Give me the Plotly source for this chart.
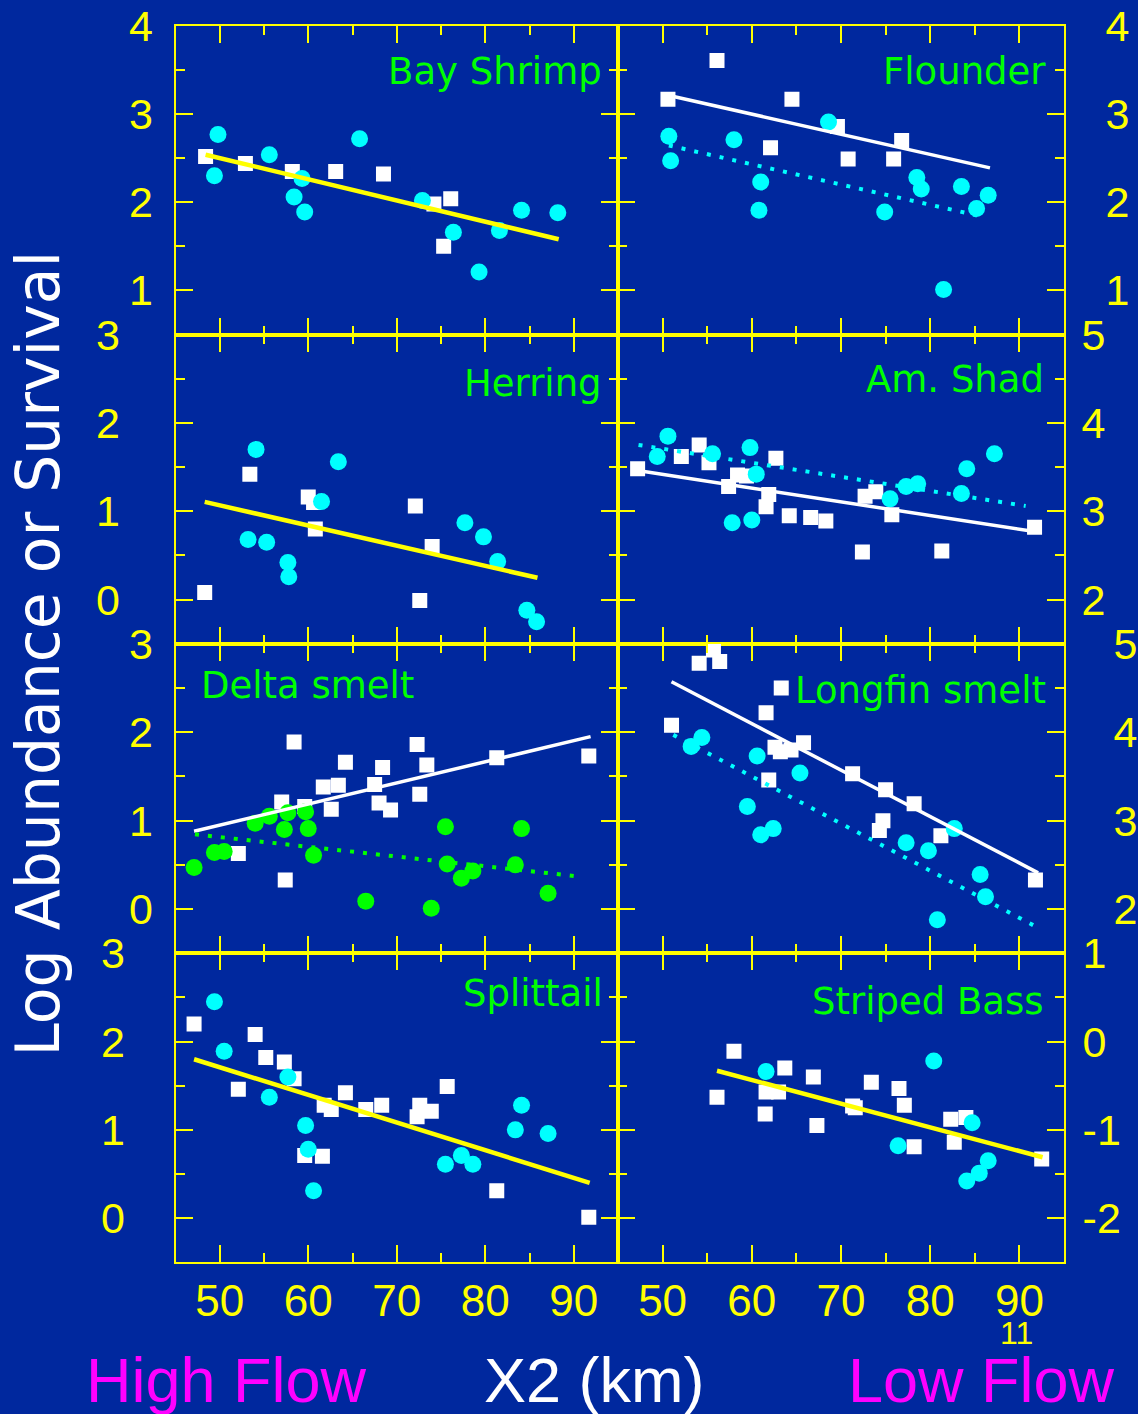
import plotly.graph_objects as go

# ---------------- data ----------------
# Bay Shrimp
bay_sq_x = [48.4, 52.9, 58.2, 63.1, 68.5, 74.2, 76.1, 75.3]
bay_sq_y = [2.52, 2.44, 2.35, 2.35, 2.32, 1.98, 2.04, 1.50]
bay_ci_x = [49.8, 49.4, 55.6, 59.3, 58.4, 59.6, 65.8, 72.9, 76.4, 81.6, 84.1, 79.3, 88.2]
bay_ci_y = [2.77, 2.30, 2.54, 2.27, 2.06, 1.89, 2.72, 2.02, 1.66, 1.68, 1.91, 1.21, 1.88]
bay_fit_x = [48.4, 88.3]
bay_fit_y = [2.54, 1.58]

# Flounder
flo_sq_x = [50.6, 56.1, 64.5, 69.6, 62.1, 70.8, 75.9, 76.8]
flo_sq_y = [3.17, 3.61, 3.17, 2.86, 2.62, 2.49, 2.49, 2.70]
flo_ci_x = [50.7, 50.9, 58.0, 61.0, 60.8, 68.6, 74.9, 78.5, 79.0, 83.5, 85.2, 86.5, 81.5]
flo_ci_y = [2.75, 2.47, 2.71, 2.23, 1.91, 2.91, 1.89, 2.28, 2.15, 2.18, 1.93, 2.08, 1.01]
flo_fit_x = [50.6, 86.7]
flo_fit_y = [3.215, 2.39]
flo_fit2_x = [50.7, 85.5]
flo_fit2_y = [2.645, 1.845]

# Herring
her_sq_x = [53.4, 48.3, 60.0, 60.6, 60.8, 72.1, 74.0, 72.6]
her_sq_y = [1.42, 0.08, 1.16, 1.10, 0.80, 1.06, 0.60, -0.01]
her_ci_x = [54.1, 63.4, 61.5, 53.2, 55.3, 57.7, 57.8, 77.7, 79.8, 81.4, 84.7, 85.8]
her_ci_y = [1.70, 1.56, 1.11, 0.68, 0.65, 0.42, 0.26, 0.87, 0.71, 0.43, -0.12, -0.25]
her_fit_x = [48.3, 85.9]
her_fit_y = [1.106, 0.247]

# Am. Shad
shad_sq_x = [47.2, 52.1, 54.1, 55.2, 57.4, 58.4, 59.4, 61.9, 61.6, 62.7, 64.2, 66.6, 68.3,
             72.7, 73.9, 75.7, 72.4, 81.3, 91.7]
shad_sq_y = [3.48, 3.62, 3.75, 3.55, 3.28, 3.41, 3.40, 3.19, 3.05, 3.60, 2.95, 2.93, 2.89,
             3.17, 3.22, 2.96, 2.54, 2.55, 2.82]
shad_ci_x = [50.6, 49.4, 55.6, 59.8, 60.5, 57.8, 60.0, 75.5, 77.3, 78.6, 83.5, 84.1, 87.2]
shad_ci_y = [3.85, 3.62, 3.65, 3.72, 3.42, 2.87, 2.90, 3.14, 3.28, 3.31, 3.20, 3.48, 3.65]
shad_fit_x = [47.2, 91.7]
shad_fit_y = [3.46, 2.77]
shad_fit2_x = [47.3, 90.7]
shad_fit2_y = [3.75, 3.06]

# Delta smelt
smelt_sq_x = [58.4, 64.2, 68.4, 72.3, 73.4, 61.7, 63.4, 67.5, 57.0, 59.6, 62.6, 68.0, 69.3,
              72.6, 81.3, 91.7, 52.1, 57.4]
smelt_sq_y = [1.89, 1.66, 1.60, 1.86, 1.63, 1.38, 1.40, 1.41, 1.21, 1.16, 1.13, 1.20, 1.12,
              1.30, 1.71, 1.73, 0.63, 0.33]
smelt_ci_x = [47.1, 49.4, 50.5, 54.0, 55.6, 57.7, 59.7, 57.3, 60.0, 60.6, 66.5, 73.9, 75.5,
              75.7, 77.3, 78.6, 83.4, 84.1, 87.1]
smelt_ci_y = [0.47, 0.64, 0.65, 0.97, 1.05, 1.09, 1.10, 0.90, 0.91, 0.61, 0.09, 0.01, 0.93,
              0.51, 0.35, 0.43, 0.50, 0.91, 0.18]
smelt_fit_x = [47.1, 91.9]
smelt_fit_y = [0.88, 1.95]
smelt_fit2_x = [47.2, 90.7]
smelt_fit2_y = [0.845, 0.367]

# Longfin smelt
lf_sq_x = [54.1, 55.7, 56.4, 63.3, 61.6, 51.0, 62.6, 63.2, 64.4, 65.8, 61.9, 71.3, 75.0,
           78.2, 74.7, 74.3, 81.2, 91.8]
lf_sq_y = [4.78, 4.93, 4.80, 4.50, 4.22, 4.08, 3.83, 3.78, 3.80, 3.88, 3.46, 3.53, 3.35,
           3.19, 3.00, 2.89, 2.83, 2.33]
lf_ci_x = [54.4, 53.2, 60.6, 65.4, 59.5, 62.4, 61.0, 77.3, 79.8, 82.7, 85.6, 86.2, 80.8]
lf_ci_y = [3.94, 3.84, 3.73, 3.54, 3.16, 2.91, 2.84, 2.75, 2.66, 2.91, 2.39, 2.14, 1.88]
lf_fit_x = [51.0, 92.1]
lf_fit_y = [4.57, 2.41]
lf_fit2_x = [51.2, 91.7]
lf_fit2_y = [3.97, 1.81]

# Splittail
spl_sq_x = [47.1, 54.0, 55.2, 57.3, 58.4, 52.1, 61.8, 62.6, 64.2, 66.5, 68.3, 72.6, 72.3,
            73.9, 75.7, 59.6, 61.6, 81.3, 91.7]
spl_sq_y = [2.20, 2.08, 1.82, 1.77, 1.58, 1.46, 1.28, 1.23, 1.42, 1.23, 1.28, 1.28, 1.15,
            1.21, 1.49, 0.71, 0.70, 0.31, 0.01]
spl_ci_x = [49.4, 50.5, 57.7, 55.6, 59.7, 60.0, 60.6, 75.5, 77.3, 78.6, 83.4, 84.1, 87.1]
spl_ci_y = [2.45, 1.89, 1.60, 1.37, 1.05, 0.78, 0.31, 0.61, 0.71, 0.61, 1.00, 1.28, 0.96]
spl_fit_x = [47.1, 91.8]
spl_fit_y = [1.80, 0.40]

# Striped Bass
sb_sq_x = [58.0, 56.1, 63.7, 66.9, 61.6, 63.0, 61.5, 67.3, 71.3, 71.6, 73.4, 76.5, 77.1,
           78.2, 82.3, 84.0, 82.7, 92.5]
sb_sq_y = [-0.11, -0.63, -0.30, -0.40, -0.57, -0.57, -0.82, -0.95, -0.73, -0.75, -0.46,
           -0.53, -0.72, -1.19, -0.88, -0.86, -1.14, -1.33]
sb_ci_x = [61.6, 80.4, 84.7, 76.4, 86.5, 85.5, 84.1]
sb_ci_y = [-0.34, -0.22, -0.92, -1.18, -1.35, -1.49, -1.58]
sb_fit_x = [56.1, 92.6]
sb_fit_y = [-0.33, -1.31]

panel_titles = ["Bay Shrimp", "Flounder", "Herring", "Am. Shad",
                "Delta smelt", "Longfin smelt", "Splittail", "Striped Bass"]
x_range = [45, 95]
x_tickvals = [50, 60, 70, 80, 90]
x_ticktext = ["50", "60", "70", "80", "90"]
x_minorvals = [45, 55, 65, 75, 85, 95]
y_ranges = [[0.5, 4], [0.5, 4], [-0.5, 3], [1.5, 5],
            [-0.5, 3], [1.5, 5], [-0.5, 3], [-2.5, 1]]
y_tickvals = [[1, 2, 3, 4], [1, 2, 3, 4], [0, 1, 2, 3], [2, 3, 4, 5],
              [0, 1, 2, 3], [2, 3, 4, 5], [0, 1, 2, 3], [-2, -1, 0, 1]]
y_ticktext = [["1", "2", "3", "4"], ["1", "2", "3", "4"], ["0", "1", "2", "3"], ["2", "3", "4", "5"],
              ["0", "1", "2", "3"], ["2", "3", "4", "5"], ["0", "1", "2", "3"], ["-2", "-1", "0", "1"]]

# ---------------- style ----------------
W, H = 1138, 1414
BG = '#00289E'
YEL = '#FFFF00'
CYAN = '#00FFFF'
GRN = '#00FF00'
WHITE = '#FFFFFF'
MAG = '#FF00FF'
TICKFONT = "Liberation Sans, Arial, sans-serif"
WIDEFONT = "DejaVu Sans, Verdana, sans-serif"

col_px = [(175.5, 618.0), (618.0, 1064.0)]
row_px = [26.0, 334.5, 643.8, 953.3, 1262.3]
left_standoff = [12, 45, 12, 40]
right_standoff = [31, 7, 39, 8]

panels = [
    dict(sq=(bay_sq_x, bay_sq_y), ci=(bay_ci_x, bay_ci_y), ccol=CYAN,
         fits=[(bay_fit_x, bay_fit_y, YEL, 4.5, 'solid')]),
    dict(sq=(flo_sq_x, flo_sq_y), ci=(flo_ci_x, flo_ci_y), ccol=CYAN,
         fits=[(flo_fit_x, flo_fit_y, WHITE, 3.5, 'solid'),
               (flo_fit2_x, flo_fit2_y, CYAN, 4, '4px,9px')]),
    dict(sq=(her_sq_x, her_sq_y), ci=(her_ci_x, her_ci_y), ccol=CYAN,
         fits=[(her_fit_x, her_fit_y, YEL, 4.5, 'solid')]),
    dict(sq=(shad_sq_x, shad_sq_y), ci=(shad_ci_x, shad_ci_y), ccol=CYAN,
         fits=[(shad_fit_x, shad_fit_y, WHITE, 3.5, 'solid'),
               (shad_fit2_x, shad_fit2_y, CYAN, 4, '4px,9px')]),
    dict(sq=(smelt_sq_x, smelt_sq_y), ci=(smelt_ci_x, smelt_ci_y), ccol=GRN,
         fits=[(smelt_fit_x, smelt_fit_y, WHITE, 3.5, 'solid'),
               (smelt_fit2_x, smelt_fit2_y, GRN, 4, '4px,9px')]),
    dict(sq=(lf_sq_x, lf_sq_y), ci=(lf_ci_x, lf_ci_y), ccol=CYAN,
         fits=[(lf_fit_x, lf_fit_y, WHITE, 3.5, 'solid'),
               (lf_fit2_x, lf_fit2_y, CYAN, 4, '4px,9px')]),
    dict(sq=(spl_sq_x, spl_sq_y), ci=(spl_ci_x, spl_ci_y), ccol=CYAN,
         fits=[(spl_fit_x, spl_fit_y, YEL, 4.5, 'solid')]),
    dict(sq=(sb_sq_x, sb_sq_y), ci=(sb_ci_x, sb_ci_y), ccol=CYAN,
         fits=[(sb_fit_x, sb_fit_y, YEL, 4.5, 'solid')]),
]

fig = go.Figure()
layout_axes = {}
for i, p in enumerate(panels):
    r, c = divmod(i, 2)
    n = i + 1
    xs = 'x' if n == 1 else f'x{n}'
    ys = 'y' if n == 1 else f'y{n}'
    fig.add_trace(go.Scatter(x=p['sq'][0], y=p['sq'][1], mode='markers', xaxis=xs, yaxis=ys,
                             marker=dict(symbol='square', size=15, color=WHITE, line=dict(width=0)),
                             showlegend=False, hoverinfo='skip'))
    fig.add_trace(go.Scatter(x=p['ci'][0], y=p['ci'][1], mode='markers', xaxis=xs, yaxis=ys,
                             marker=dict(symbol='circle', size=17, color=p['ccol'], line=dict(width=0)),
                             showlegend=False, hoverinfo='skip'))
    for fx, fy, col, lw, dash in p['fits']:
        fig.add_trace(go.Scatter(x=fx, y=fy, mode='lines', xaxis=xs, yaxis=ys,
                                 line=dict(color=col, width=lw, dash=dash),
                                 showlegend=False, hoverinfo='skip'))

    x0, x1 = col_px[c]
    ytop, ybot = row_px[r], row_px[r + 1]
    xname = 'xaxis' if n == 1 else f'xaxis{n}'
    yname = 'yaxis' if n == 1 else f'yaxis{n}'
    ymin = y_ranges[i][0]
    ymax = y_ranges[i][1]
    yminor = [v + 0.5 for v in range(int(ymin - 1), int(ymax) + 1)]
    layout_axes[xname] = dict(
        domain=[x0 / W, x1 / W], anchor=ys, range=x_range, automargin=False,
        tickmode='array', tickvals=x_tickvals, ticktext=x_ticktext,
        ticks='inside', ticklen=17, tickwidth=2, tickcolor=YEL,
        minor=dict(ticks='inside', ticklen=9, tickwidth=2, tickcolor=YEL, tickvals=x_minorvals),
        showline=True, linecolor=YEL, linewidth=2, mirror='ticks',
        showgrid=False, zeroline=False,
        showticklabels=(r == 3), ticklabelstandoff=-1,
        tickfont=dict(family=TICKFONT, size=44, color=YEL),
    )
    layout_axes[yname] = dict(
        domain=[1 - ybot / H, 1 - ytop / H], anchor=xs, range=y_ranges[i], automargin=False,
        tickmode='array', tickvals=y_tickvals[i], ticktext=y_ticktext[i],
        ticks='inside', ticklen=17, tickwidth=2, tickcolor=YEL,
        minor=dict(ticks='inside', ticklen=9, tickwidth=2, tickcolor=YEL, tickvals=yminor),
        showline=True, linecolor=YEL, linewidth=2, mirror='ticks',
        showgrid=False, zeroline=False,
        side='left' if c == 0 else 'right',
        ticklabelstandoff=left_standoff[r] if c == 0 else right_standoff[r],
        tickfont=dict(family=TICKFONT, size=43, color=YEL),
    )

fig.update_layout(**layout_axes)

ann = []
title_pos = [  # (x px, y px, anchor)
    (604, 71, 'right'), (1048, 72, 'right'),
    (604, 383, 'right'), (1046, 379, 'right'),
    (199, 685, 'left'), (1048, 690, 'right'),
    (605, 993, 'right'), (1046, 1001, 'right'),
]
for t, (px, py, anc) in zip(panel_titles, title_pos):
    ann.append(dict(text=t, x=px / W, y=1 - py / H, xref='paper', yref='paper',
                    xanchor=anc, yanchor='middle', showarrow=False,
                    font=dict(family=WIDEFONT, size=37, color=GRN)))

ann.append(dict(text="Log Abundance or Survival", x=37 / W, y=1 - 653.5 / H,
                xref='paper', yref='paper', xanchor='center', yanchor='middle',
                textangle=-90, showarrow=False,
                font=dict(family=WIDEFONT, size=60, color=WHITE)))
ann.append(dict(text="High Flow", x=226.5 / W, y=1 - 1379.5 / H, xref='paper', yref='paper',
                xanchor='center', yanchor='middle', showarrow=False,
                font=dict(family=TICKFONT, size=63, color=MAG)))
ann.append(dict(text="X2 (km)", x=594.5 / W, y=1 - 1379.5 / H, xref='paper', yref='paper',
                xanchor='center', yanchor='middle', showarrow=False,
                font=dict(family=TICKFONT, size=63, color=WHITE)))
ann.append(dict(text="Low Flow", x=981.5 / W, y=1 - 1379.5 / H, xref='paper', yref='paper',
                xanchor='center', yanchor='middle', showarrow=False,
                font=dict(family=TICKFONT, size=63, color=MAG)))
ann.append(dict(text="11", x=1016 / W, y=1 - 1333 / H, xref='paper', yref='paper',
                xanchor='center', yanchor='middle', showarrow=False,
                font=dict(family=TICKFONT, size=32, color=YEL)))

fig.update_layout(
    width=W, height=H, autosize=False,
    margin=dict(l=0, r=0, t=0, b=0, pad=0, autoexpand=False),
    paper_bgcolor=BG, plot_bgcolor=BG,
    annotations=ann, showlegend=False,
)

fig.write_html("out.html", config={'displayModeBar': False})
